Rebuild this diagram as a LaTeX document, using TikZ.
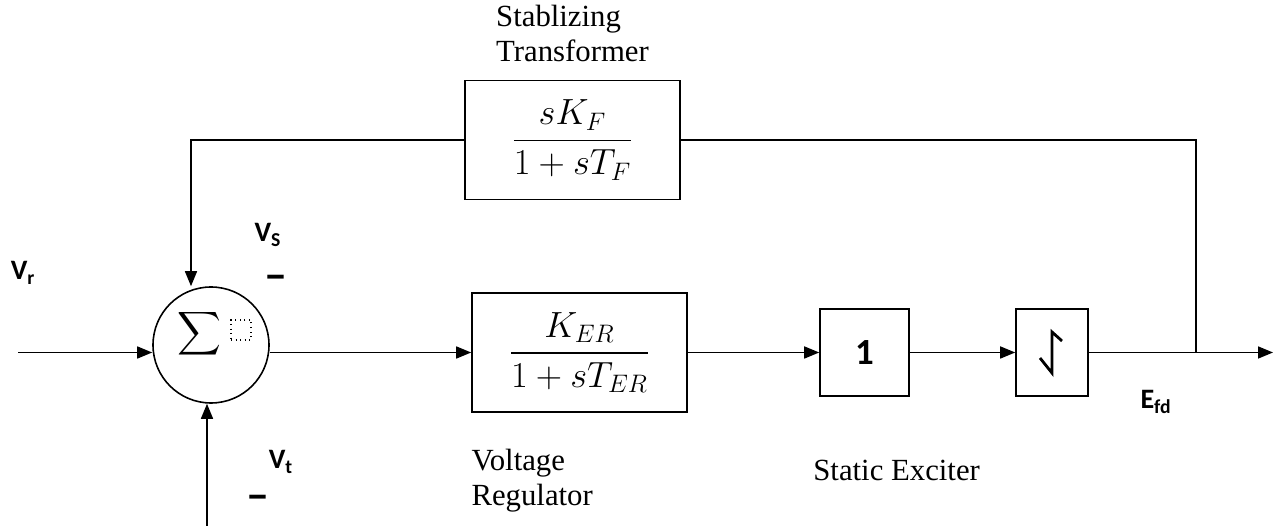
\documentclass[tikz,border=0pt]{standalone}
\usepackage{amsmath}
\usepackage{fontspec}
\setmainfont{Liberation Serif}
\newfontfamily\sigfont{Carlito}
\usetikzlibrary{
  arrows.meta,
  positioning,
  calc
}
\tikzset{
  gainbox/.style={draw, line width=0.9pt,
    minimum width=4.3cm, minimum height=2.38cm,
    align=center, font=\fontsize{21}{25}\selectfont},
  smallbox/.style={draw, line width=0.9pt,
    minimum height=1.74cm,
    font=\sigfont\bfseries\fontsize{21}{24}\selectfont},
  sumcirc/.style={draw, circle, line width=0.9pt,
    minimum size=2.32cm, inner sep=0pt},
  siglbl/.style={font=\sigfont\bfseries\fontsize{16}{19}\selectfont,
    inner sep=0pt},
  minuslbl/.style={font=\sigfont\bfseries\fontsize{24}{26}\selectfont,
    inner sep=0pt},
  capnote/.style={font=\fontsize{17.5}{20}\selectfont,
    align=left, inner sep=0pt},
  arr/.style={-{Triangle[length=3mm, width=2.4mm]}, line width=0.9pt},
  wire/.style={line width=0.9pt},
}

\begin{document}
\begin{tikzpicture}
  \useasboundingbox (0,0) rectangle (25.5,-10.52);

  % summing junction
  \node[sumcirc] (sum) at (4.22,-6.9) {};
  \node[font=\fontsize{17.28}{20}\selectfont, inner sep=0pt] (sig)
    at (3.98,-6.68) {$\displaystyle\sum$};
  \node[draw, dotted, line width=0.6pt, minimum size=0.4cm,
        inner sep=0pt] (ph) at (4.82,-6.6) {};

  % forward path
  \node[gainbox] (reg) at (11.59,-7.05)
    {$\dfrac{K_{ER}}{1+sT_{ER}}$};
  \node[smallbox, minimum width=1.78cm] (one) at (17.29,-7.05) {1};
  \node[smallbox, minimum width=1.44cm] (lim) at (21.04,-7.05) {};
  \draw[line width=1.6pt]
    ($(lim.center)+(-0.24,-0.11)$) -- ($(lim.center)+(0,-0.41)$)
    -- ($(lim.center)+(0,0.41)$) -- ($(lim.center)+(0.2,0.23)$);

  % feedback path
  \node[gainbox] (stab) at (11.45,-2.8)
    {$\dfrac{sK_{F}}{1+sT_{F}}$};

  % free ends
  \coordinate (vrin) at (0.36,-7.05);
  \coordinate (vtin) at (4.14,-10.52);
  \coordinate (tap) at (23.92,-7.05);
  \coordinate (out) at (25.46,-7.05);

  % Arrows
  \draw[arr] (vrin) -- (vrin -| sum.west);
  \draw[arr] (vtin) -- (vtin |- sum.south);
  \draw[arr] (sum.east |- reg.west) -- (reg.west);
  \foreach \a/\b in {reg/one, one/lim} {
    \draw[arr] (\a) -- (\b);
  }
  \draw[arr] (lim) -- (out);
  \draw[wire] (tap) |- (stab.east);
  \draw[arr] (stab.west) -| ([xshift=-0.4cm]sum.north);

  % Signal labels
  \node[siglbl] (vr) at (0.46,-5.46) {V\textsubscript{r}};
  \node[siglbl] (vs) at (5.36,-4.7) {V\textsubscript{S}};
  \node[minuslbl] (vsm) at (5.52,-5.66) {−};
  \node[siglbl] (vt) at (5.62,-9.24) {V\textsubscript{t}};
  \node[minuslbl] (vtm) at (5.16,-10.06) {−};
  \node[siglbl] (efd) at (23.12,-8.04) {E\textsubscript{fd}};

  % Block captions
  \node[capnote, above=0.35cm of stab] (stabcap)
    {Stablizing\\Transformer};
  \node[capnote, anchor=north west] (regcap)
    at ([yshift=-0.72cm]reg.south west) {Voltage\\Regulator};
  \node[capnote, anchor=west] (excap) at (16.26,-9.4)
    {Static Exciter};
\end{tikzpicture}
\end{document}
